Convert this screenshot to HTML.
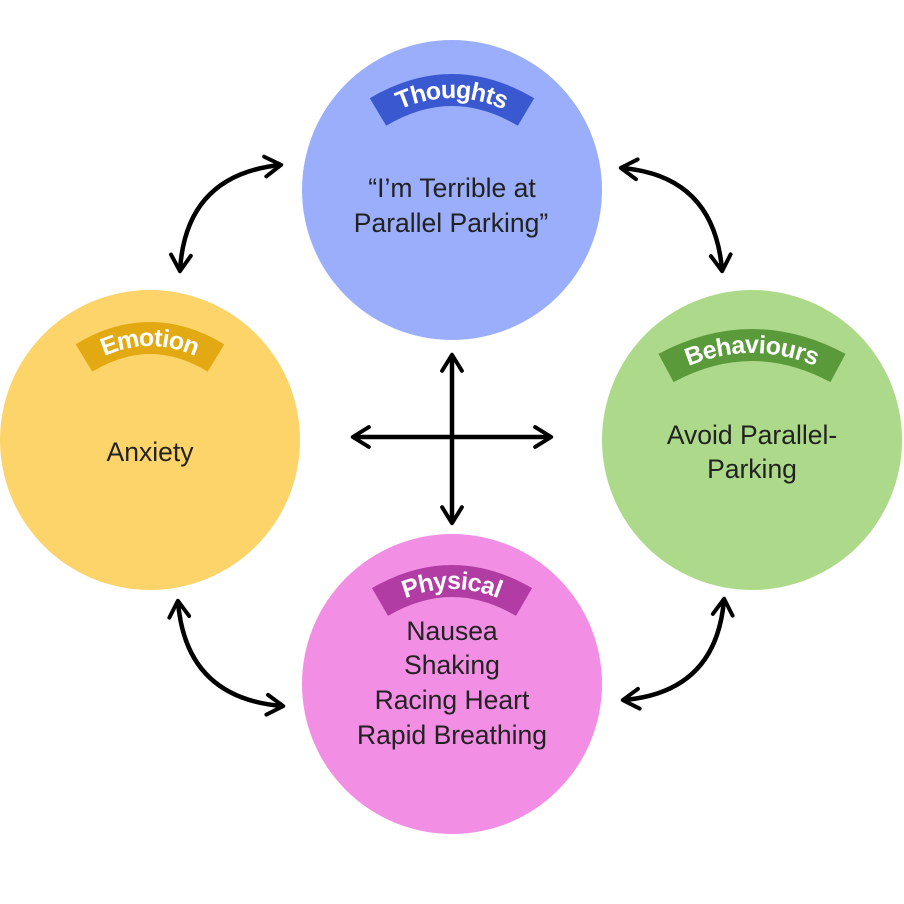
<!DOCTYPE html>
<html><head><meta charset="utf-8"><style>
html,body{margin:0;padding:0;background:#fff;}
svg{display:block;}
</style></head><body>
<svg width="904" height="904" viewBox="0 0 904 904" xmlns="http://www.w3.org/2000/svg">
<defs>
<marker id="ah" viewBox="0 0 20 20" refX="14" refY="10" markerWidth="5.5" markerHeight="5.5" orient="auto-start-reverse" markerUnits="strokeWidth">
<path d="M2,2 L15,10 L2,18" fill="none" stroke="#000" stroke-width="3.2" stroke-linecap="round" stroke-linejoin="round"/>
</marker>
<path id="pt" d="M378,112 Q452,68 526,112"/>
<path id="pe" d="M84,358 Q150,318 216,358"/>
<path id="pb" d="M666,368 Q752,322 838,368"/>
<path id="pp" d="M380,602 Q452,560 524,602"/>
</defs>
<circle cx="452" cy="190" r="150" fill="#9aaefc"/>
<circle cx="150" cy="440" r="150" fill="#fdd46a"/>
<circle cx="752" cy="440" r="150" fill="#acd98a"/>
<circle cx="452" cy="684" r="150" fill="#f28ee4"/>

<g fill="none" stroke-width="32" stroke-linecap="butt">
<use href="#pt" stroke="#3a59d1"/>
<use href="#pe" stroke="#e3a913"/>
<use href="#pb" stroke="#5b9a3b"/>
<use href="#pp" stroke="#b13ca3"/>
</g>
<g font-family="Liberation Sans, sans-serif" font-weight="bold" fill="#fff" font-size="25" text-anchor="middle">
<text dy="8"><textPath href="#pt" startOffset="50%">Thoughts</textPath></text>
<text dy="8"><textPath href="#pe" startOffset="50%">Emotion</textPath></text>
<text dy="8"><textPath href="#pb" startOffset="50%">Behaviours</textPath></text>
<text dy="8"><textPath href="#pp" startOffset="50%">Physical</textPath></text>
</g>

<g font-family="Liberation Sans, sans-serif" fill="#222" font-size="26.5" text-anchor="middle">
<text x="452" y="197">“I’m Terrible at</text>
<text x="451" y="232">Parallel Parking”</text>
<text x="150" y="461">Anxiety</text>
<text x="752" y="444">Avoid Parallel-</text>
<text x="752" y="478">Parking</text>
<text x="452" y="640">Nausea</text>
<text x="452" y="674">Shaking</text>
<text x="452" y="709">Racing Heart</text>
<text x="452" y="744">Rapid Breathing</text>
</g>

<g fill="none" stroke="#000" stroke-width="4.5" stroke-linecap="round" marker-start="url(#ah)" marker-end="url(#ah)">
<path d="M180,270 Q186,175 280,165"/>
<path d="M622,168 Q714,176 722,270"/>
<path d="M178,602 Q186,698 282,706"/>
<path d="M624,700 Q716,692 724,600"/>
<path d="M354,437 L550,437"/>
<path d="M452,356 L452,522"/>
</g>
</svg>
</body></html>
